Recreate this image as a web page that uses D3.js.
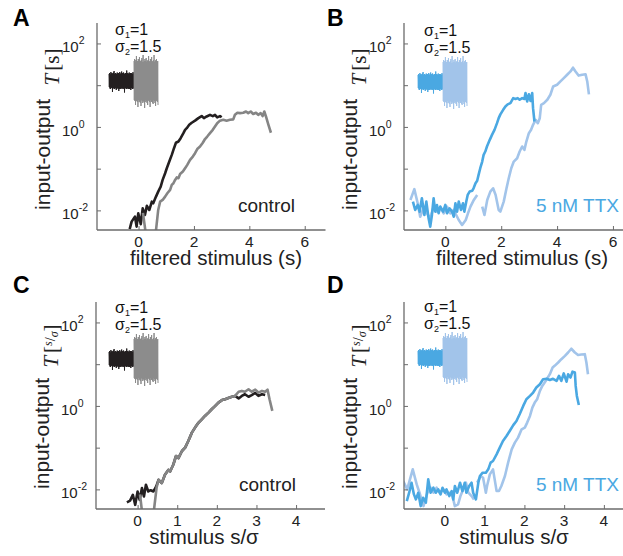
<!DOCTYPE html>
<html>
<head>
<meta charset="utf-8">
<script src="https://cdn.jsdelivr.net/npm/d3@7"></script>
<style>
  html, body { margin: 0; padding: 0; background: #fff; }
  svg { display: block; font-family: "Liberation Sans", Arial, sans-serif; }
</style>
</head>
<body>
<svg id="fig" width="623" height="556"></svg>
<script>
// ---- data (x = stimulus, y = log10 of input-output T; null = gap) ----
const ticksXFiltered = [0, 2, 4, 6];
const ticksXScaled = [0, 1, 2, 3, 4];
const ticksYMajor = [-2, 0, 2];
const ticksYMinor = [-1, 1];

// A: control, filtered stimulus
const aBlackX = [-0.32,-0.25,-0.13,-0.07,-0.01,0.08,0.15,0.23,0.30,0.39,0.48,0.53,0.63,0.71,0.80,0.87,0.96,1.02,1.11,1.20,1.28,1.35,1.44,1.52,1.62,1.68,1.74,1.83,1.92,2.04,2.16,2.28,2.36,2.46,2.58,2.68,2.76,2.84,2.94,3.00];
const aBlackY = [-2.45,-2.27,-2.15,-2.39,-2.07,-2.33,-1.95,-2.11,-1.89,-1.99,-1.79,-1.83,-1.67,-1.55,-1.43,-1.27,-1.11,-0.99,-0.83,-0.67,-0.51,-0.38,-0.35,-0.27,-0.15,-0.07,-0.03,0.05,0.10,0.15,0.21,0.26,0.21,0.25,0.29,0.26,0.29,0.23,0.26,0.23];
const aGrayX = [0.16,0.27,0.61,0.71,0.78,0.87,0.96,1.04,1.14,1.20,1.26,1.32,1.38,1.44,1.50,1.60,1.68,1.76,1.86,1.96,2.04,2.12,2.22,2.32,2.40,2.48,2.58,2.68,2.76,2.84,2.94,3.06,3.18,3.30,3.42,3.48,3.57,3.66,3.78,3.88,3.96,4.05,4.14,4.24,4.32,4.41,4.48,4.54,4.60,4.69,4.78];
const aGrayY = [-2.06,-2.6,-2.6,-1.99,-1.79,-1.75,-1.67,-1.59,-1.51,-1.39,-1.35,-1.27,-1.21,-1.23,-1.13,-1.07,-0.99,-0.91,-0.79,-0.71,-0.63,-0.53,-0.47,-0.38,-0.29,-0.23,-0.15,-0.07,0.01,0.09,0.15,0.17,0.15,0.17,0.18,0.29,0.34,0.33,0.34,0.37,0.33,0.37,0.31,0.34,0.29,0.33,0.26,0.37,0.25,0.05,-0.14];

// B: 5 nM TTX, filtered stimulus
const bDarkX = [-1.16,-1.08,-0.99,-0.92,-0.84,-0.75,-0.68,-0.60,-0.54,-0.48,-0.42,-0.36,-0.30,-0.24,-0.18,-0.08,0.00,0.06,0.15,0.24,0.30,0.36,0.42,0.48,0.56,0.63,0.68,0.75,0.80,0.87,0.96,1.01,1.08,1.14,1.19,1.25,1.32,1.37,1.43,1.49,1.59,1.67,1.76,1.85,1.91,1.97,2.07,2.15,2.23,2.33,2.43,2.51,2.59,2.66,2.75,2.83,2.87,2.93,2.99,3.05,3.11,3.14,3.19];
const bDarkY = [-1.79,-1.99,-1.87,-2.03,-1.71,-2.11,-1.79,-2.19,-2.39,-2.11,-1.71,-2.03,-1.87,-2.07,-1.91,-2.03,-1.87,-2.07,-1.95,-2.03,-2.15,-1.83,-2.03,-1.79,-1.99,-1.83,-2.03,-1.79,-1.63,-1.55,-1.53,-1.47,-1.35,-1.29,-1.15,-0.99,-0.83,-0.67,-0.59,-0.47,-0.31,-0.19,-0.07,0.09,0.21,0.30,0.41,0.49,0.54,0.57,0.69,0.67,0.69,0.65,0.69,0.67,0.81,0.61,0.78,0.62,0.81,0.45,0.13];
const bLightX = [-1.25,-1.11,-0.99,-0.90,-0.78,-0.66,-0.54,-0.42,-0.30,-0.18,-0.06,0.06,0.18,0.30,0.48,0.60,0.73,0.81,0.90,1.02,1.14,1.23,1.32,1.40,1.50,1.61,1.71,1.80,1.91,1.97,2.09,2.19,2.27,2.36,2.45,2.57,2.66,2.75,2.83,2.90,2.99,3.07,3.14,3.23,3.31,3.38,3.43,3.53,3.65,3.76,3.86,4.00,4.12,4.24,4.36,4.48,4.57,4.66,4.77,4.90,5.02,5.08,5.14];
const bLightY = [-1.75,-1.49,-1.83,-2.15,-1.95,-2.07,-2.19,-1.91,-2.03,-1.93,-2.07,-1.91,-2.07,-1.99,-2.23,-2.35,-2.23,-2.07,-1.91,-1.75,-1.63,null,-1.91,-2.11,-1.75,-1.55,-1.47,-1.63,-1.99,-2.03,-1.79,-1.47,-1.23,-0.99,-0.83,-0.75,-0.59,-0.47,-0.55,-0.35,-0.15,-0.07,0.05,0.17,0.09,0.21,0.53,0.57,0.65,0.77,0.97,1.01,1.09,1.17,1.25,1.33,1.42,1.33,1.23,1.25,1.26,1.09,0.78];

// C: control, normalised stimulus s/σ
const cBlackX = [-0.27,-0.19,-0.12,-0.06,0.00,0.05,0.11,0.16,0.21,0.27,0.33,0.40,0.47,0.53,0.61,0.69,0.78,0.82,0.90,0.97,1.03,1.12,1.20,1.28,1.37,1.45,1.54,1.62,1.70,1.79,1.87,1.96,2.04,2.13,2.21,2.29,2.38,2.46,2.55,2.63,2.71,2.80,2.88,2.97,3.05,3.14,3.22];
const cBlackY = [-2.31,-2.27,-2.13,-2.37,-2.05,-2.25,-1.97,-2.17,-1.89,-2.05,-2.02,-2.05,-1.93,-1.77,-1.85,-1.65,-1.53,-1.57,-1.41,-1.20,-1.25,-1.08,-1.00,-0.84,-0.64,-0.52,-0.40,-0.32,-0.24,-0.16,-0.08,0.00,0.08,0.14,0.16,0.19,0.22,0.24,0.18,0.24,0.28,0.22,0.26,0.31,0.24,0.28,0.26];
const cGrayX = [0.06,0.12,0.40,0.48,0.53,0.61,0.69,0.78,0.82,0.90,0.97,1.03,1.12,1.20,1.28,1.37,1.45,1.54,1.62,1.70,1.79,1.87,1.96,2.04,2.13,2.21,2.29,2.38,2.46,2.55,2.63,2.71,2.80,2.88,2.97,3.05,3.14,3.22,3.28,3.33,3.40];
const cGrayY = [-2.12,-2.6,-2.6,-1.95,-1.77,-1.85,-1.65,-1.53,-1.57,-1.41,-1.20,-1.25,-1.08,-1.00,-0.84,-0.64,-0.52,-0.40,-0.32,-0.24,-0.16,-0.08,0.00,0.08,0.14,0.16,0.19,0.22,0.24,0.34,0.36,0.34,0.40,0.34,0.39,0.32,0.36,0.34,0.39,0.16,-0.12];

// D: 5 nM TTX, normalised stimulus s/σ
const dDarkX = [-0.96,-0.90,-0.84,-0.78,-0.73,-0.67,-0.61,-0.55,-0.48,-0.42,-0.36,-0.29,-0.23,-0.17,-0.11,-0.06,0.00,0.04,0.11,0.17,0.21,0.25,0.31,0.38,0.44,0.50,0.54,0.61,0.67,0.71,0.78,0.84,0.88,0.95,1.03,1.09,1.15,1.21,1.30,1.38,1.46,1.55,1.63,1.72,1.80,1.88,1.97,2.05,2.14,2.22,2.30,2.39,2.47,2.56,2.64,2.72,2.81,2.87,2.93,2.99,3.06,3.10,3.16,3.21,3.27,3.29,3.32,3.37];
const dDarkY = [-2.28,-2.08,-1.84,-2.12,-2.24,-2.08,-2.40,-2.20,-2.32,-1.76,-2.08,-1.96,-2.08,-2.00,-2.12,-1.96,-2.08,-2.00,-2.16,-2.04,-2.24,-1.92,-2.08,-1.84,-2.04,-1.84,-2.08,-1.92,-1.84,-2.08,-2.24,-1.84,-1.68,-1.60,-1.60,-1.52,-1.36,-1.32,-1.16,-1.00,-0.84,-0.72,-0.60,-0.46,-0.36,-0.20,0.00,0.16,0.24,0.32,0.44,0.52,0.64,0.65,0.62,0.65,0.60,0.72,0.60,0.78,0.58,0.76,0.68,0.82,0.80,0.48,0.24,0.02];
const dLightX = [-1.05,-0.95,-0.81,-0.71,-0.64,-0.54,-0.44,-0.36,-0.29,-0.21,-0.13,-0.04,0.04,0.11,0.19,0.25,0.33,0.39,0.46,0.53,0.59,0.67,0.73,0.77,0.81,0.90,0.96,1.03,1.06,1.13,1.21,1.30,1.36,1.42,1.51,1.59,1.68,1.76,1.84,1.93,2.01,2.07,2.14,2.20,2.26,2.32,2.39,2.45,2.51,2.57,2.64,2.71,2.76,2.85,2.93,3.02,3.10,3.18,3.27,3.35,3.43,3.52,3.56,3.60];
const dLightY = [-1.80,-2.00,-1.52,-1.88,-2.08,-2.40,-2.08,-1.96,-2.08,-1.96,-2.08,-2.00,-2.12,-2.08,-2.16,-2.40,-2.36,-2.16,-2.00,-1.84,-2.08,-2.16,-2.24,null,-1.84,-1.68,-1.72,-2.08,-1.92,-1.64,-1.52,-2.04,-2.04,-1.92,-1.68,-1.36,-1.04,-0.88,-0.76,-0.56,-0.52,-0.40,-0.24,-0.04,0.08,0.16,0.36,0.48,0.56,0.65,0.76,0.92,0.96,1.04,1.12,1.20,1.28,1.37,1.28,1.22,1.23,1.24,1.04,0.76];

// stimulus snippets drawn in the insets (σ1 segment, then σ2 segment)
const stimLow = [0.7,-0.6,0.8,-0.75,0.65,-0.8,0.9,-0.7,0.75,-0.65,0.8,-1.1,0.7,-0.75,0.85,-0.7,1.0,-0.8,0.7,-0.75,0.8,-0.7,0.75,-0.9,0.7,-0.8,0.85,-0.7,0.75,-0.75,0.8,-1.0,0.7,-0.8,0.9,-0.7,0.75,-0.8,0.7,-0.75,0.95,-0.7,0.8,-0.75,0.7,-0.8,0.85,-0.7,0.75,-1.15,0.7,-0.75,0.8,-0.7,0.75,-0.8,1.05,-0.7,0.8,-0.75,0.7,-0.8,0.75,-0.7,0.85,-0.8,0.7,-0.75,0.8,-0.9,0.75,-0.7,0.8,-0.75,0.7,-0.8,0.9,-0.7,0.75,-0.8];
const stimHigh = [2.0,-1.9,2.2,-2.0,1.9,-2.4,2.1,-1.9,2.5,-2.0,1.9,-2.1,2.0,-2.6,2.2,-1.9,2.0,-2.1,2.4,-2.0,1.9,-2.2,2.0,-2.5,2.1,-1.9,2.3,-2.0,1.9,-2.2,2.6,-2.0,1.9,-2.1,2.0,-2.7,2.2,-1.9,2.0,-2.1,2.3,-2.0,1.9,-2.2,2.0,-2.4,2.1,-1.9,2.5,-2.0,1.9,-2.1,2.0,-2.6,2.2,-1.9,2.0,-2.1,2.4,-2.0,1.9,-2.2,2.0,-2.3,2.1,-1.9,2.6,-2.0,1.9,-2.2,2.0,-2.5,2.1,-1.9,2.2,-2.0,1.9,-2.1,2.0,-2.4];

// ---- drawing ----
const svg = d3.select("#fig");
const colDark = "#231f20", colGray = "#858585";
const colBlue = "#4aa8e2", colLightBlue = "#a2c4ea";

const panels = [
  { letter: "A", lx: 13, ly: 26, left: 97, right: 325.5, top: 23, bottom: 230, xDom: [-1.5, 6.75], xt: ticksXFiltered,
    xlabel: "filtered stimulus (s)", xlx: 216, scaled: false, cond: "control", condEnd: 295, condColor: "#222",
    series: [[aBlackX, aBlackY, colDark], [aGrayX, aGrayY, colGray]], ins: [109, 134, 158, 81], c1: colDark, c2: "#8c8c8c" },
  { letter: "B", lx: 327, ly: 26, left: 404, right: 632.5, top: 23, bottom: 230, xDom: [-1.48, 6.7], xt: ticksXFiltered,
    xlabel: "filtered stimulus (s)", xlx: 522, scaled: false, cond: "5 nM TTX", condEnd: 619, condColor: colBlue,
    series: [[bLightX, bLightY, colLightBlue], [bDarkX, bDarkY, colBlue]], ins: [418, 443, 467, 82], c1: colBlue, c2: colLightBlue },
  { letter: "C", lx: 13, ly: 293, left: 96, right: 325, top: 302, bottom: 509, xDom: [-1.05, 4.73], xt: ticksXScaled,
    xlabel: "stimulus s/σ", xlx: 204, scaled: true, cond: "control", condEnd: 296, condColor: "#222",
    series: [[cBlackX, cBlackY, colDark], [cGrayX, cGrayY, colGray]], ins: [109, 134, 158, 359], c1: colDark, c2: "#8c8c8c" },
  { letter: "D", lx: 327, ly: 293, left: 404, right: 632.5, top: 302, bottom: 509, xDom: [-1.03, 4.72], xt: ticksXScaled,
    xlabel: "stimulus s/σ", xlx: 514, scaled: true, cond: "5 nM TTX", condEnd: 619, condColor: colBlue,
    series: [[dLightX, dLightY, colLightBlue], [dDarkX, dDarkY, colBlue]], ins: [418, 443, 467, 358], c1: colBlue, c2: colLightBlue }
];

panels.forEach((p, i) => {
  const g = svg.append("g");
  const x = d3.scaleLinear().domain(p.xDom).range([p.left, p.right]);
  const y = d3.scaleLog().domain([Math.pow(10, -2.47), Math.pow(10, 2.49)]).range([p.bottom, p.top]);

  // panel letter
  g.append("text").attr("x", p.lx).attr("y", p.ly).attr("font-size", 23).attr("font-weight", "bold")
    .attr("fill", "#000").text(p.letter);

  // clip region for curves
  const clipId = "clip" + i;
  svg.append("clipPath").attr("id", clipId).append("rect")
    .attr("x", p.left).attr("y", p.top).attr("width", p.right - p.left).attr("height", p.bottom - p.top);

  // curves
  p.series.forEach(([xs, ys, col]) => {
    const pts = xs.map((v, k) => [v, ys[k]]);
    const line = d3.line()
      .defined(d => d[1] !== null)
      .x(d => x(d[0])).y(d => y(Math.pow(10, d[1])));
    g.append("path").attr("clip-path", `url(#${clipId})`).datum(pts)
      .attr("d", line).attr("fill", "none").attr("stroke", col)
      .attr("stroke-width", 2.6).attr("stroke-linejoin", "round");
  });

  // axes
  const axisCol = "#6b6b6b";
  const yMaj = ticksYMajor.map(e => Math.pow(10, e));
  const yAll = ticksYMinor.map(e => Math.pow(10, e)).concat(yMaj);
  const yAxis = d3.axisRight(y).tickValues(yAll).tickSize(4).tickFormat("");
  const gy = g.append("g").attr("transform", `translate(${p.left},0)`).call(yAxis);
  const xAxis = d3.axisTop(x).tickValues(p.xt).tickSize(4).tickFormat("");
  const gx = g.append("g").attr("transform", `translate(0,${p.bottom})`).call(xAxis);
  [gx, gy].forEach(ax => {
    ax.select(".domain").remove();
    ax.selectAll(".tick line").attr("stroke", axisCol).attr("stroke-width", 1);
  });
  g.append("line").attr("x1", p.left).attr("x2", p.left).attr("y1", p.top).attr("y2", p.bottom)
    .attr("stroke", axisCol).attr("stroke-width", 1.3);
  g.append("line").attr("x1", p.left).attr("x2", p.right).attr("y1", p.bottom).attr("y2", p.bottom)
    .attr("stroke", axisCol).attr("stroke-width", 1.3);

  // tick labels
  p.xt.forEach(v => {
    g.append("text").attr("x", x(v)).attr("y", p.bottom + 17).attr("text-anchor", "middle")
      .attr("font-size", 15.5).attr("fill", "#222").text(v);
  });
  ticksYMajor.forEach(e => {
    const t = g.append("text").attr("x", p.left - 35).attr("y", y(Math.pow(10, e)) + 9)
      .attr("font-size", 15).attr("fill", "#222");
    t.append("tspan").text("10");
    t.append("tspan").attr("dy", -8).attr("font-size", 10.5).text(e);
  });

  // axis titles
  g.append("text").attr("x", p.xlx).attr("y", p.bottom + 35).attr("text-anchor", "middle")
    .attr("font-size", 20.5).attr("fill", "#222").text(p.xlabel);
  g.append("text").attr("transform", `translate(${p.left - 47},${(p.top + p.bottom) / 2 + 28}) rotate(-90)`)
    .attr("text-anchor", "middle").attr("font-size", 21).attr("fill", "#222").text("input-output");
  const tl = g.append("text").attr("transform", `translate(${p.left - 38},${p.top + 44}) rotate(-90)`)
    .attr("text-anchor", "middle").attr("font-family", "'Liberation Serif', serif").attr("font-size", 21).attr("fill", "#222");
  tl.append("tspan").attr("font-style", "italic").text("T");
  tl.append("tspan").attr("dx", 3).text("[");
  if (p.scaled) {
    tl.append("tspan").attr("font-style", "italic").attr("font-size", 12).attr("dy", -6).text("s");
    tl.append("tspan").attr("font-size", 14).attr("dy", 3).text("/");
    tl.append("tspan").attr("font-style", "italic").attr("font-size", 12).attr("dy", 3).text("σ");
    tl.append("tspan").attr("dy", 0).text("]");
  } else {
    tl.append("tspan").text("s");
    tl.append("tspan").text("]");
  }

  // condition label
  g.append("text").attr("x", p.condEnd).attr("y", p.bottom - 18)
    .attr("text-anchor", "end").attr("font-size", 19).attr("fill", p.condColor).text(p.cond);

  // inset: sigma labels and stimulus snippet
  const [ix0, ix1, ix2, iy] = p.ins;
  const s1 = g.append("text").attr("x", ix0 + 6).attr("y", iy - 46).attr("font-size", 16).attr("fill", "#111");
  s1.append("tspan").text("σ");
  s1.append("tspan").attr("font-size", 9).attr("dy", 3).text("1");
  s1.append("tspan").attr("dy", -3).text("=1");
  const s2 = g.append("text").attr("x", ix0 + 6).attr("y", iy - 29).attr("font-size", 16).attr("fill", "#111");
  s2.append("tspan").text("σ");
  s2.append("tspan").attr("font-size", 9).attr("dy", 3).text("2");
  s2.append("tspan").attr("dy", -3).text("=1.5");

  const amp = 10;
  const xa = d3.scaleLinear().domain([0, stimLow.length - 1]).range([ix0, ix1]);
  const xb = d3.scaleLinear().domain([0, stimHigh.length - 1]).range([ix1, ix2]);
  const ys = d3.scaleLinear().domain([-1, 1]).range([iy + amp, iy - amp]);
  g.append("path").datum(stimLow).attr("d", d3.line().x((d, k) => xa(k)).y(d => ys(d)))
    .attr("fill", "none").attr("stroke", p.c1).attr("stroke-width", 1);
  g.append("path").datum(stimHigh).attr("d", d3.line().x((d, k) => xb(k)).y(d => ys(d)))
    .attr("fill", "none").attr("stroke", p.c2).attr("stroke-width", 1);
});
</script>
</body>
</html>
